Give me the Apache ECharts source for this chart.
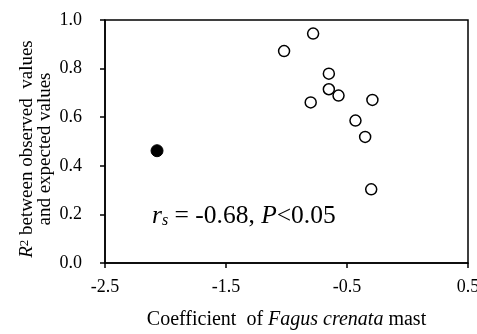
<!DOCTYPE html>
<html>
<head>
<meta charset="utf-8">
<script src="https://cdn.jsdelivr.net/npm/echarts@6/dist/echarts.min.js"></script>
<style>
  html, body { margin: 0; padding: 0; background: #fff; }
  #chart-container { width: 477px; height: 334px; }
</style>
</head>
<body>
<div id="chart-container"></div>
<script>
// data
const openX = [-0.78, -1.02, -0.65, -0.65, -0.57, -0.80, -0.29, -0.43, -0.35, -0.30];
const openY = [0.944, 0.872, 0.779, 0.715, 0.689, 0.661, 0.671, 0.586, 0.519, 0.303];
const filledX = [-2.07];
const filledY = [0.462];

const serif = "Liberation Serif";

const chart = echarts.init(document.getElementById("chart-container"));

const axisCommon = {
    axisLine: { show: true, onZero: false, lineStyle: { color: "#000", width: 1.5 } },
    axisTick: { show: true, inside: false, length: 5, lineStyle: { color: "#000", width: 1.5 } },
    splitLine: { show: false },
    axisLabel: { color: "#000", fontFamily: serif, fontSize: 18 }
};

const options = {
    animation: false,
    grid: {
        left: 105,
        right: 9,
        top: 20,
        bottom: 71,
        outerBoundsMode: "none",
        containLabel: false,
        show: true,
        borderColor: "#000",
        borderWidth: 1.5
    },
    xAxis: {
        type: "value",
        min: -2.5,
        max: 0.5,
        interval: 1,
        ...axisCommon,
        axisLabel: {
            ...axisCommon.axisLabel,
            margin: 15,
            formatter: v => v.toFixed(1)
        },
        name: "{n|Coefficient  of }{i|Fagus crenata}{n| mast}",
        nameLocation: "middle",
        nameGap: 47,
        nameTextStyle: {
            rich: {
                n: { fontFamily: serif, fontSize: 20, color: "#000" },
                i: { fontFamily: serif, fontSize: 20, fontStyle: "italic", color: "#000" }
            }
        }
    },
    yAxis: {
        type: "value",
        min: 0,
        max: 1,
        interval: 0.2,
        ...axisCommon,
        axisLabel: {
            ...axisCommon.axisLabel,
            margin: 23,
            formatter: v => v.toFixed(1)
        }
    },
    graphic: [
        {
            // y axis title, two lines, rotated
            type: "text",
            x: 36,
            y: 149,
            rotation: Math.PI / 2,
            style: {
                text: "{i|R}{sup|2}{n| between observed  values}\n{n|and expected values}",
                align: "center",
                verticalAlign: "middle",
                rich: {
                    n: { fontFamily: serif, fontSize: 19, fill: "#000", lineHeight: 18 },
                    i: { fontFamily: serif, fontSize: 19, fontStyle: "italic", fill: "#000", lineHeight: 18 },
                    sup: { fontFamily: serif, fontSize: 13, fill: "#000", verticalAlign: "top", lineHeight: 18 }
                }
            }
        },
        {
            type: "text",
            left: 152,
            top: 203,
            style: {
                text: "{i|r}{sub|s}{n| = -0.68, }{i|P}{n|<0.05}",
                rich: {
                    n: { fontFamily: serif, fontSize: 25.5, fill: "#000" },
                    i: { fontFamily: serif, fontSize: 25.5, fontStyle: "italic", fill: "#000" },
                    sub: { fontFamily: serif, fontSize: 16, fontStyle: "italic", fill: "#000", verticalAlign: "bottom", padding: [10, 0, 0, 0] }
                }
            }
        }
    ],
    series: [
        {
            name: "open",
            type: "scatter",
            symbol: "circle",
            symbolSize: 11,
            itemStyle: { color: "#fff", borderColor: "#000", borderWidth: 1.5, opacity: 1 },
            data: openX.map((x, i) => [x, openY[i]])
        },
        {
            name: "filled",
            type: "scatter",
            symbol: "circle",
            symbolSize: 12,
            itemStyle: { color: "#000", borderColor: "#000", borderWidth: 1, opacity: 1 },
            data: filledX.map((x, i) => [x, filledY[i]])
        }
    ]
};

chart.setOption(options);
</script>
</body>
</html>
